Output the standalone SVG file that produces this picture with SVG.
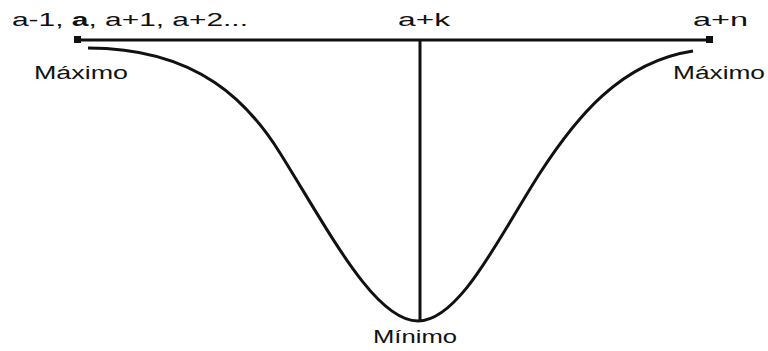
<svg xmlns="http://www.w3.org/2000/svg" width="768" height="351" viewBox="0 0 768 351">
<style>
.t{font-family:"Liberation Sans","DejaVu Sans",sans-serif;font-size:18px;fill:#111}
.ln{stroke:#111;stroke-width:3;fill:none}
.sq{fill:#111}
</style>
<rect width="768" height="351" fill="#fff"/>
<g id="connectors">
<line class="ln" x1="77" y1="40" x2="709" y2="40"/>
<line class="ln" x1="420" y1="40" x2="420" y2="321"/>
<path class="ln" d="M88,48 C200,48 250,105 280,153 C330,233 375,321 418,321 C460,321 500,235 540,173 C575,119 620,62 693,51"/>
</g>
<g id="left-end">
<rect class="sq" x="74" y="36" width="7" height="7"/>
<text class="t" x="12" y="26" textLength="236" lengthAdjust="spacingAndGlyphs">a-1, <tspan font-weight="bold">a</tspan>, a+1, a+2...</text>
<text class="t" x="34" y="79" textLength="94" lengthAdjust="spacingAndGlyphs">Máximo</text>
</g>
<g id="middle">
<text class="t" x="398" y="26" textLength="52" lengthAdjust="spacingAndGlyphs">a+k</text>
<text class="t" x="373" y="343" textLength="84" lengthAdjust="spacingAndGlyphs">Mínimo</text>
</g>
<g id="right-end">
<rect class="sq" x="706" y="36" width="7" height="7"/>
<text class="t" x="693" y="26" textLength="55" lengthAdjust="spacingAndGlyphs">a+n</text>
<text class="t" x="673" y="79" textLength="92" lengthAdjust="spacingAndGlyphs">Máximo</text>
</g>
</svg>
